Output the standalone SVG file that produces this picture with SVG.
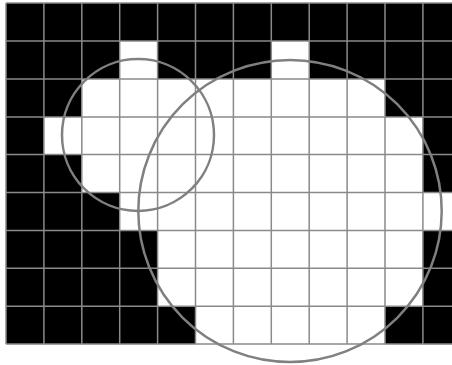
<svg xmlns="http://www.w3.org/2000/svg" width="452" height="365" viewBox="0 0 452 365">
<style>
.b{fill:#000}
.g{stroke:#8a8a8a;stroke-width:1.5;fill:none}
.c{stroke:#808080;stroke-width:2.5;fill:none}
</style>
<rect width="452" height="365" fill="#fff"/>
<g id="cells">
<!-- row 0 -->
<rect class="b" x="6" y="3" width="455" height="38"/>
<!-- row 1 -->
<rect class="b" x="6" y="41" width="113.7" height="38"/>
<rect class="b" x="157.6" y="41" width="113.7" height="38"/>
<rect class="b" x="309.2" y="41" width="152" height="38"/>
<!-- row 2 -->
<rect class="b" x="6" y="79" width="75.8" height="38"/>
<rect class="b" x="385" y="79" width="76" height="38"/>
<!-- row 3 -->
<rect class="b" x="6" y="117" width="37.9" height="37.9"/>
<rect class="b" x="422.9" y="117" width="38" height="37.9"/>
<!-- row 4 -->
<rect class="b" x="6" y="154.6" width="75.8" height="37.9"/>
<rect class="b" x="422.9" y="154.6" width="38" height="37.9"/>
<!-- row 5 -->
<rect class="b" x="6" y="192.5" width="113.7" height="37.9"/>
<!-- row 6-7 -->
<rect class="b" x="6" y="230.4" width="151.6" height="75.8"/>
<rect class="b" x="422.9" y="230.4" width="38" height="113.7"/>
<!-- row 8 -->
<rect class="b" x="6" y="306.2" width="189.5" height="37.9"/>
<rect class="b" x="385" y="306.2" width="76" height="37.9"/>
</g>
<g id="grid" class="g">
<path d="M6 3V344M43.9 3V344M81.8 3V344M119.7 3V344M157.6 3V344M195.5 3V344M233.4 3V344M271.3 3V344M309.2 3V344M347.1 3V344M385 3V344M422.9 3V344"/>
<path d="M6 3H452M6 41H452M6 79H452M6 117H452M6 154.6H452M6 192.5H452M6 230.4H452M6 268.3H452M6 306.2H452M6 344.1H452"/>
</g>
<g id="small-circle">
<circle class="c" cx="138" cy="135" r="76"/>
</g>
<g id="big-ellipse">
<ellipse class="c" cx="290" cy="211" rx="151.7" ry="151"/>
</g>
</svg>
